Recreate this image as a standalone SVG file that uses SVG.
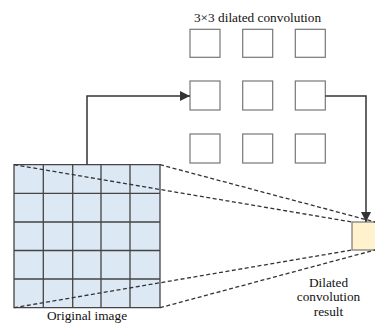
<svg xmlns="http://www.w3.org/2000/svg" width="375" height="329" viewBox="0 0 375 329">
<style>
.t{font-family:"Liberation Serif","Times New Roman",serif;font-size:13.3px;fill:#111;text-anchor:middle}
.k{fill:#fff;stroke:#777;stroke-width:1.2}
.g{stroke:#444;stroke-width:1.3;fill:none}
.d{stroke:#333;stroke-width:1.3;stroke-dasharray:4 2.5;fill:none}
.c{stroke:#333;stroke-width:1.5;fill:none}
</style>
<defs>
<marker id="ah" viewBox="0 0 10 10" refX="10" refY="5" markerWidth="10" markerHeight="10" markerUnits="userSpaceOnUse" orient="auto">
<path d="M0,0 L10,5 L0,10 z" fill="#333"/>
</marker>
</defs>
<rect width="375" height="329" fill="#fff"/>
<g id="original-image">
<rect x="14" y="164.7" width="146" height="143" fill="#dde8f5"/>
<path class="g" d="M14,164.7H160V307.7H14Z M43.3,164.7V307.7 M72.7,164.7V307.7 M101,164.7V307.7 M130,164.7V307.7 M14,193.3H160 M14,222H160 M14,250.5H160 M14,279H160"/>
<text class="t" x="87" y="320">Original image</text>
</g>
<g id="kernel">
<text class="t" x="257.5" y="22">3×3 dilated convolution</text>
<rect class="k" x="190" y="29.3" width="30" height="28"/>
<rect class="k" x="242.7" y="29.3" width="30" height="28"/>
<rect class="k" x="295.3" y="29.3" width="30" height="28"/>
<rect class="k" x="190" y="81" width="30" height="29"/>
<rect class="k" x="242.7" y="81" width="30" height="29"/>
<rect class="k" x="295.3" y="81" width="30" height="29"/>
<rect class="k" x="190" y="134" width="30" height="29"/>
<rect class="k" x="242.7" y="134" width="30" height="29"/>
<rect class="k" x="295.3" y="134" width="30" height="29"/>
</g>
<g id="result">
<rect x="352" y="222" width="30" height="28" fill="#fff2cc" stroke="#777" stroke-width="1.2"/>
<text class="t" x="328.5" y="287">Dilated</text>
<text class="t" x="328.5" y="301">convolution</text>
<text class="t" x="328.5" y="315.5">result</text>
</g>
<g id="connectors">
<path class="d" d="M14,164.7L352,222 M160,164.7L375,222 M14,307.7L352,250 M160,307.7L375,250"/>
<path class="c" d="M87,164.7V96H190" marker-end="url(#ah)"/>
<path class="c" d="M325.3,96H366V222" marker-end="url(#ah)"/>
</g>
</svg>
